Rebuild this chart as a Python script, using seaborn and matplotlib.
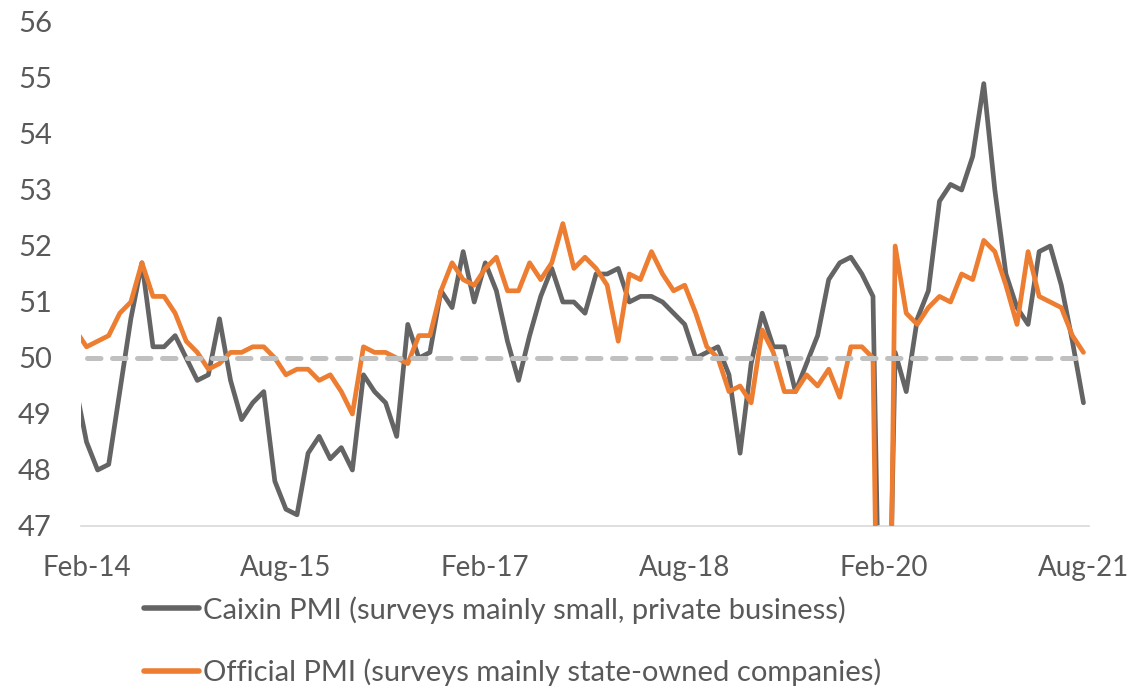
import matplotlib
matplotlib.use("Agg")
import matplotlib.pyplot as plt
import seaborn as sns
import pandas as pd
import numpy as np

# Month index: Feb-14 = 0 (Jan-14 = -1, clipped at the axis edge)
months = list(range(-1, 91))

caixin = [49.5, 48.5, 48.0, 48.1, 49.4, 50.7, 51.7, 50.2, 50.2, 50.4, 50.0, 49.6,
          49.7, 50.7, 49.6, 48.9, 49.2, 49.4, 47.8, 47.3, 47.2, 48.3, 48.6, 48.2,
          48.4, 48.0, 49.7, 49.4, 49.2, 48.6, 50.6, 50.0, 50.1, 51.2, 50.9, 51.9,
          51.0, 51.7, 51.2, 50.3, 49.6, 50.4, 51.1, 51.6, 51.0, 51.0, 50.8, 51.5,
          51.5, 51.6, 51.0, 51.1, 51.1, 51.0, 50.8, 50.6, 50.0, 50.1, 50.2, 49.7,
          48.3, 49.9, 50.8, 50.2, 50.2, 49.4, 49.9, 50.4, 51.4, 51.7, 51.8, 51.5,
          51.1, 40.3, 50.1, 49.4, 50.7, 51.2, 52.8, 53.1, 53.0, 53.6, 54.9, 53.0,
          51.5, 50.9, 50.6, 51.9, 52.0, 51.3, 50.3, 49.2]

official = [50.5, 50.2, 50.3, 50.4, 50.8, 51.0, 51.7, 51.1, 51.1, 50.8, 50.3, 50.1,
            49.8, 49.9, 50.1, 50.1, 50.2, 50.2, 50.0, 49.7, 49.8, 49.8, 49.6, 49.7,
            49.4, 49.0, 50.2, 50.1, 50.1, 50.0, 49.9, 50.4, 50.4, 51.2, 51.7, 51.4,
            51.3, 51.6, 51.8, 51.2, 51.2, 51.7, 51.4, 51.7, 52.4, 51.6, 51.8, 51.6,
            51.3, 50.3, 51.5, 51.4, 51.9, 51.5, 51.2, 51.3, 50.8, 50.2, 50.0, 49.4,
            49.5, 49.2, 50.5, 50.1, 49.4, 49.4, 49.7, 49.5, 49.8, 49.3, 50.2, 50.2,
            50.0, 35.7, 52.0, 50.8, 50.6, 50.9, 51.1, 51.0, 51.5, 51.4, 52.1, 51.9,
            51.3, 50.6, 51.9, 51.1, 51.0, 50.9, 50.4, 50.1]

neutral_months = [0, 90]
neutral_level = [50, 50]

tick_positions = [0, 18, 36, 54, 72, 90]
tick_labels = ["Feb-14", "Aug-15", "Feb-17", "Aug-18", "Feb-20", "Aug-21"]
y_ticks = list(range(47, 57))

label_caixin = "Caixin PMI (surveys mainly small, private business)"
label_official = "Official PMI (surveys mainly state-owned companies)"

sns.set_style("white")
plt.rcParams["font.family"] = ["Lato", "DejaVu Sans"]

GRAY = "#646464"
ORANGE = "#ED7D31"
TXT = "#595959"

fig = plt.figure(figsize=(11.35, 6.88), dpi=100)
ax = fig.add_axes([81 / 1135, 1 - 526 / 688, (1089 - 81) / 1135, (526 - 22) / 688])

df = pd.DataFrame({"month": months, "caixin": caixin, "official": official})
sns.lineplot(data=df, x="month", y="caixin", ax=ax, color=GRAY, lw=3.4,
             label=label_caixin, zorder=2)
sns.lineplot(data=df, x="month", y="official", ax=ax, color=ORANGE, lw=3.4,
             label=label_official, zorder=3)
ax.plot(neutral_months, neutral_level, color="#C0C0C0", lw=3.6,
        linestyle=(0, (2.7, 2.3)), dash_capstyle="round", zorder=4)

ax.set_xlim(-0.5, 90.5)
ax.set_ylim(47, 56)
ax.set_xticks(tick_positions)
ax.set_xticklabels(tick_labels)
ax.set_yticks(y_ticks)
ax.set_xlabel("")
ax.set_ylabel("")
for s in ["top", "right", "left"]:
    ax.spines[s].set_visible(False)
ax.spines["bottom"].set_color("#D9D9D9")
ax.spines["bottom"].set_linewidth(1.2)
ax.tick_params(axis="x", length=0, pad=21, labelsize=20, colors=TXT)
ax.tick_params(axis="y", length=0, pad=21, labelsize=21, colors=TXT)
ax.grid(False)

ax.get_legend().remove()
handles, labels = ax.get_legend_handles_labels()
leg = fig.legend(handles[:2], labels[:2], loc="upper left",
                 bbox_to_anchor=(144 / 1135, 1 - 596 / 688),
                 frameon=False, fontsize=21, handlelength=1.9,
                 handletextpad=0.13, labelspacing=1.2, borderpad=0,
                 borderaxespad=0)
for t in leg.get_texts():
    t.set_color(TXT)
for h in leg.get_lines():
    h.set_linewidth(4)

fig.savefig("out.png", dpi=100)
